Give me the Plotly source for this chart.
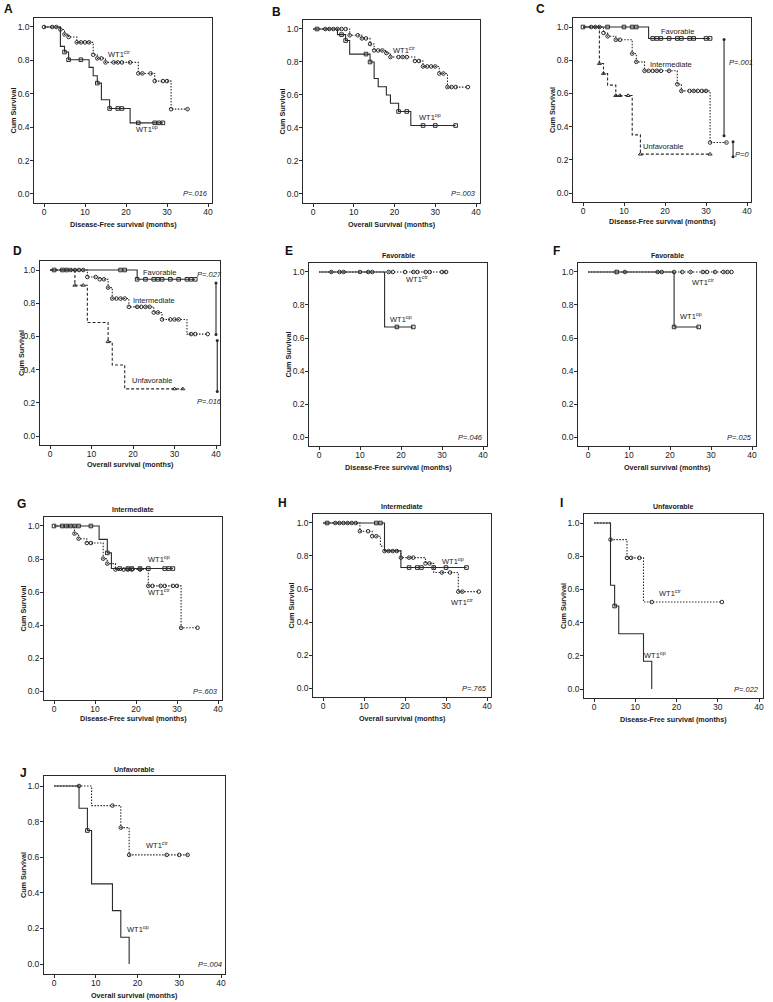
import plotly.graph_objects as go

W, H = 773, 1002
FONT = "Arial, Liberation Sans, sans-serif"
INK = "#2a2a2a"

# ---------------- data (Kaplan-Meier steps: start times, survival levels, end, censor times)
A_ctr_T = [0, 4, 5, 6, 8, 12, 13, 15, 23, 27, 31]
A_ctr_S = [1.0, 0.985, 0.956, 0.94, 0.908, 0.834, 0.812, 0.788, 0.722, 0.676, 0.508]
A_ctr_end = 35
A_ctr_cens = [0, 2, 3, 4, 5, 6, 8, 9, 10, 11, 12, 13, 14, 15, 17, 18, 19, 21, 23, 24, 26, 27, 29, 30, 31, 35]
A_op_T = [0, 4, 5, 6, 11, 12, 13, 14, 16, 21]
A_op_S = [1.0, 0.884, 0.85, 0.804, 0.758, 0.708, 0.664, 0.564, 0.512, 0.426]
A_op_end = 29
A_op_cens = [5, 6, 9, 13, 16, 18, 19, 23, 27, 28, 29]

B_ctr_T = [0, 9, 12, 14, 15, 18, 19, 25, 27, 31, 33]
B_ctr_S = [1.0, 0.962, 0.943, 0.909, 0.87, 0.854, 0.83, 0.806, 0.773, 0.73, 0.648]
B_ctr_end = 38
B_ctr_cens = [3, 4, 5, 6, 7, 8, 9, 11, 12, 13, 14, 15, 16, 17, 18, 19, 21, 22, 23, 25, 26,
              27, 28, 29, 30, 31, 32, 33, 34, 35, 38]
B_op_T = [0, 6, 8, 9, 14, 15, 16, 18, 19, 21, 24]
B_op_S = [1.0, 0.966, 0.93, 0.848, 0.80, 0.70, 0.65, 0.60, 0.55, 0.50, 0.415]
B_op_end = 35
B_op_cens = [1, 7, 8, 13, 14, 21, 23, 27, 30, 35]

C_fav_T = [0, 16]
C_fav_S = [1.0, 0.931]
C_fav_end = 31
C_fav_cens = [0, 6, 10, 12, 13, 17, 18, 19, 21, 23, 24, 26, 27, 30, 31]
C_int_T = [0, 5, 6, 8, 12, 13, 15, 23, 24, 31]
C_int_S = [1.0, 0.964, 0.944, 0.923, 0.84, 0.79, 0.736, 0.655, 0.615, 0.304]
C_int_end = 35
C_int_cens = [2, 3, 4, 5, 6, 8, 9, 12, 13, 15, 16, 17, 18, 19, 21, 23, 24, 26, 27, 28, 29, 30, 31, 35]
C_unf_T = [0, 4, 5, 6, 8, 12, 14]
C_unf_S = [1.0, 0.78, 0.72, 0.65, 0.587, 0.35, 0.234]
C_unf_end = 31
C_unf_cens = [4, 5, 8, 9, 11, 14, 31]

D_fav_T = [0, 21]
D_fav_S = [1.0, 0.944]
D_fav_end = 35
D_fav_cens = [1, 3, 4, 17, 18, 21, 23, 25, 26, 27, 29, 31, 33, 34, 35]
D_int_T = [0, 9, 12, 14, 15, 19, 25, 27, 33]
D_int_S = [1.0, 0.958, 0.944, 0.894, 0.828, 0.778, 0.744, 0.702, 0.614]
D_int_end = 38
D_int_cens = [5, 6, 7, 8, 9, 11, 12, 13, 14, 15, 16, 17, 18, 19, 21, 22, 23, 24, 25, 26, 27,
              29, 30, 31, 34, 35, 38]
D_unf_T = [0, 6, 9, 14, 15, 18]
D_unf_S = [1.0, 0.908, 0.684, 0.568, 0.428, 0.284]
D_unf_end = 32
D_unf_cens = [6, 8, 14, 30, 32]

E_ctr_T = [0]
E_ctr_S = [1.0]
E_ctr_end = 31
E_ctr_cens = [3, 5, 6, 10, 12, 13, 17, 18, 21, 23, 24, 26, 27, 30, 31]
E_op_T = [0, 16]
E_op_S = [1.0, 0.667]
E_op_end = 23
E_op_cens = [19, 23]

F_ctr_T = [0]
F_ctr_S = [1.0]
F_ctr_end = 35
F_ctr_cens = [9, 17, 18, 21, 23, 25, 28, 29, 31, 33, 34, 35]
F_op_T = [0, 21]
F_op_S = [1.0, 0.667]
F_op_end = 27
F_op_cens = [7, 21, 27]

G_ctr_T = [0, 5, 6, 8, 12, 13, 15, 23, 31]
G_ctr_S = [1.0, 0.954, 0.923, 0.897, 0.802, 0.772, 0.736, 0.637, 0.383]
G_ctr_end = 35
G_ctr_cens = [5, 6, 8, 9, 12, 13, 15, 17, 18, 19, 21, 23, 24, 26, 27, 29, 30, 31, 35]
G_op_T = [0, 11, 13, 14]
G_op_S = [1.0, 0.919, 0.837, 0.742]
G_op_end = 29
G_op_cens = [0, 2, 3, 4, 5, 6, 9, 13, 16, 18, 19, 21, 23, 27, 28, 29]

H_ctr_T = [0, 9, 12, 14, 15, 19, 25, 27, 33]
H_ctr_S = [1.0, 0.95, 0.92, 0.86, 0.83, 0.79, 0.755, 0.70, 0.584]
H_ctr_end = 38
H_ctr_cens = [3, 4, 5, 6, 7, 8, 9, 11, 12, 13, 15, 16, 17, 18, 19, 21, 22, 25, 26, 29, 31, 33, 34, 38]
H_op_T = [0, 15, 19]
H_op_S = [1.0, 0.831, 0.73]
H_op_end = 35
H_op_cens = [1, 13, 14, 21, 23, 24, 27, 30, 35]

I_ctr_T = [0, 4, 8, 12]
I_ctr_S = [1.0, 0.90, 0.79, 0.524]
I_ctr_end = 31
I_ctr_cens = [4, 8, 9, 11, 14, 31]
I_op_T = [0, 4, 5, 6, 12, 14]
I_op_S = [1.0, 0.625, 0.50, 0.333, 0.167, 0.0]
I_op_end = 14
I_op_cens = [5]

J_ctr_T = [0, 9, 16, 18]
J_ctr_S = [1.0, 0.89, 0.766, 0.613]
J_ctr_end = 32
J_ctr_cens = [6, 14, 16, 18, 27, 30, 32]
J_op_T = [0, 6, 8, 9, 14, 16, 18]
J_op_S = [1.0, 0.875, 0.75, 0.45, 0.30, 0.15, 0.0]
J_op_end = 18
J_op_cens = [8]

x_ticks = [0, 10, 20, 30, 40]
y_ticks = [0.0, 0.2, 0.4, 0.6, 0.8, 1.0]
y_ticklabels = ["0.0", "0.2", "0.4", "0.6", "0.8", "1.0"]

DFS = "Disease-Free survival (months)"
OS = "Overall survival (months)"
OS_B = "Overall Survival (months)"

# ---------------- styles
CTR = dict(dash="1.5px,1.5px", symbol="circle-open")
OP = dict(dash="solid", symbol="square-open")
FAV = dict(dash="solid", symbol="square-open")
INT = dict(dash="1.5px,1.5px", symbol="circle-open")
UNF = dict(dash="3px,2px", symbol="triangle-up-open")

XR = [-2.4, 41.0]
YR = [-0.055, 1.055]

ctr_lab = "WT1<sup>ctr</sup>"
op_lab = "WT1<sup>op</sup>"

panels = [
    dict(letter="A", geo=(44, 208, 27, 194), lpos=(8, 9), xtitle=DFS, xty=224, yt=13, title=None,
         curves=[(A_ctr_T, A_ctr_S, A_ctr_end, A_ctr_cens, CTR), (A_op_T, A_op_S, A_op_end, A_op_cens, OP)],
         labels=[(ctr_lab, 18.3, 0.84), (op_lab, 25.0, 0.39)], p="P=.016"),
    dict(letter="B", geo=(313, 476, 29, 194), lpos=(276, 12), xtitle=OS_B, xty=224, yt=282, title=None,
         curves=[(B_ctr_T, B_ctr_S, B_ctr_end, B_ctr_cens, CTR), (B_op_T, B_op_S, B_op_end, B_op_cens, OP)],
         labels=[(ctr_lab, 22.4, 0.87), (op_lab, 28.6, 0.466)], p="P=.003"),
    dict(letter="C", geo=(583, 747, 27, 193), lpos=(540, 9), xtitle=DFS, xty=222, yt=552, title=None,
         curves=[(C_unf_T, C_unf_S, C_unf_end, C_unf_cens, UNF), (C_int_T, C_int_S, C_int_end, C_int_cens, INT),
                 (C_fav_T, C_fav_S, C_fav_end, C_fav_cens, FAV)],
         labels=[("Favorable", 23.1, 0.97), ("Intermediate", 21.4, 0.772), ("Unfavorable", 19.4, 0.278)],
         p=None,
         brackets=[(34.4, 0.925, 0.345, "P=.001", 38.6, 0.786, "center"),
                   (36.6, 0.308, 0.218, "P=0", 38.9, 0.234, "center")]),
    dict(letter="D", geo=(50, 216, 270, 436), lpos=(17, 251), xtitle=OS, xty=465, yt=21, title=None,
         curves=[(D_unf_T, D_unf_S, D_unf_end, D_unf_cens, UNF), (D_int_T, D_int_S, D_int_end, D_int_cens, INT),
                 (D_fav_T, D_fav_S, D_fav_end, D_fav_cens, FAV)],
         labels=[("Favorable", 26.4, 0.982), ("Intermediate", 25.1, 0.816), ("Unfavorable", 24.5, 0.334)],
         p=None,
         brackets=[(40.0, 0.922, 0.612, "P=.027", 38.4, 0.972, "center"),
                   (40.3, 0.576, 0.268, "P=.016", 38.4, 0.208, "center")]),
    dict(letter="E", geo=(319, 483, 272, 437), lpos=(289, 251), xtitle=DFS, xty=467, yt=288, title="Favorable",
         curves=[(E_ctr_T, E_ctr_S, E_ctr_end, E_ctr_cens, CTR), (E_op_T, E_op_S, E_op_end, E_op_cens, OP)],
         labels=[(ctr_lab, 23.9, 0.96), (op_lab, 20.0, 0.715)], p="P=.046"),
    dict(letter="F", geo=(588, 752, 272, 437), lpos=(556, 251), xtitle=OS, xty=467, yt=None, title="Favorable",
         curves=[(F_ctr_T, F_ctr_S, F_ctr_end, F_ctr_cens, CTR), (F_op_T, F_op_S, F_op_end, F_op_cens, OP)],
         labels=[(ctr_lab, 28.0, 0.94), (op_lab, 25.2, 0.735)], p="P=.025"),
    dict(letter="G", geo=(54, 218, 526, 691), lpos=(21, 504), xtitle=DFS, xty=718, yt=23, title="Intermediate",
         curves=[(G_ctr_T, G_ctr_S, G_ctr_end, G_ctr_cens, CTR), (G_op_T, G_op_S, G_op_end, G_op_cens, OP)],
         labels=[(op_lab, 25.7, 0.80), (ctr_lab, 25.7, 0.60)], p="P=.603"),
    dict(letter="H", geo=(323, 487, 523, 688), lpos=(282, 503), xtitle=OS, xty=718, yt=291, title="Intermediate",
         curves=[(H_ctr_T, H_ctr_S, H_ctr_end, H_ctr_cens, CTR), (H_op_T, H_op_S, H_op_end, H_op_cens, OP)],
         labels=[(op_lab, 31.8, 0.77), (ctr_lab, 33.8, 0.523)], p="P=.765"),
    dict(letter="I", geo=(594, 759, 523, 689), lpos=(561, 503), xtitle=DFS, xty=719, yt=563, title="Unfavorable",
         curves=[(I_ctr_T, I_ctr_S, I_ctr_end, I_ctr_cens, CTR), (I_op_T, I_op_S, I_op_end, I_op_cens, OP)],
         labels=[(ctr_lab, 18.4, 0.58), (op_lab, 14.9, 0.207)], p="P=.022"),
    dict(letter="J", geo=(54, 221, 786, 964), lpos=(23, 773), xtitle=OS, xty=995, yt=23, title="Unfavorable",
         curves=[(J_ctr_T, J_ctr_S, J_ctr_end, J_ctr_cens, CTR), (J_op_T, J_op_S, J_op_end, J_op_cens, OP)],
         labels=[(ctr_lab, 24.6, 0.669), (op_lab, 20.2, 0.196)], p="P=.004"),
]


def px(x):
    return x / W


def py(y):
    return 1 - y / H


def level(T, S, t):
    v = S[0]
    for ti, si in zip(T, S):
        if ti <= t:
            v = si
    return v


fig = go.Figure()
layout = {}
annotations = []

for i, p in enumerate(panels, start=1):
    sfx = "" if i == 1 else str(i)
    xa, ya = "x" + sfx, "y" + sfx
    x0, x40, y1, y0 = p["geo"]
    sx = (x40 - x0) / 40.0
    sy = (y0 - y1) / 1.0
    left = x0 + (XR[0]) * sx
    right = x0 + XR[1] * sx
    top = y1 - (YR[1] - 1) * sy
    bottom = y0 - YR[0] * sy
    axis_common = dict(ticks="outside", ticklen=3, tickwidth=1, tickcolor=INK, showline=True,
                       linecolor=INK, linewidth=1, mirror=True, showgrid=False, zeroline=False,
                       tickfont=dict(family=FONT, size=8.5, color="#1a1a1a"))
    layout["xaxis" + sfx] = dict(domain=[px(left), px(right)], range=XR, anchor=ya, tickvals=x_ticks,
                                 ticklabelstandoff=-2, **axis_common)
    layout["yaxis" + sfx] = dict(domain=[py(bottom), py(top)], range=YR, anchor=xa, tickvals=y_ticks,
                                 ticktext=y_ticklabels, ticklabelstandoff=-1, **axis_common)

    for (T, S, end, cens, st) in p["curves"]:
        fig.add_trace(go.Scatter(
            x=list(T) + [end], y=list(S) + [S[-1]], mode="lines", line_shape="hv",
            line=dict(color=INK, width=1.1, dash=st["dash"]), xaxis=xa, yaxis=ya,
            hoverinfo="skip", showlegend=False))
        fig.add_trace(go.Scatter(
            x=cens, y=[level(T, S, t) for t in cens], mode="markers",
            marker=dict(symbol=st["symbol"], size=3.6, color=INK, line=dict(width=1, color=INK)),
            xaxis=xa, yaxis=ya, hoverinfo="skip", showlegend=False))

    for (txt, lx, ly) in p["labels"]:
        annotations.append(dict(text=txt, x=lx, y=ly, xref=xa, yref=ya, showarrow=False,
                                xanchor="center", yanchor="middle",
                                font=dict(family=FONT, size=7.5, color="#1a1a1a")))

    if p.get("p"):
        annotations.append(dict(text="<i>" + p["p"] + "</i>", x=40.6, y=0.0, xref=xa, yref=ya,
                                xanchor="right", yanchor="middle", showarrow=False,
                                font=dict(family=FONT, size=7.5, color="#1a1a1a")))
    for (bx, ya_, yb_, txt, tx, ty, anc) in p.get("brackets", []):
        fig.add_trace(go.Scatter(
            x=[bx, bx], y=[ya_, yb_], mode="lines+markers",
            line=dict(color=INK, width=1.1), marker=dict(symbol="circle", size=3, color=INK),
            xaxis=xa, yaxis=ya, hoverinfo="skip", showlegend=False))
        annotations.append(dict(text="<i>" + txt + "</i>", x=tx, y=ty, xref=xa, yref=ya,
                                showarrow=False, xanchor=anc, yanchor="middle",
                                font=dict(family=FONT, size=7.5, color="#1a1a1a")))

    lx, ly = p["lpos"]
    annotations.append(dict(text="<b>" + p["letter"] + "</b>", x=px(lx), y=py(ly), xref="paper",
                            yref="paper", showarrow=False, xanchor="center", yanchor="middle",
                            font=dict(family=FONT, size=12, color="#111")))
    if p["title"]:
        annotations.append(dict(text="<b>" + p["title"] + "</b>", x=px((left + right) / 2),
                                y=py(top - 7), xref="paper", yref="paper", showarrow=False,
                                xanchor="center", yanchor="middle",
                                font=dict(family=FONT, size=7, color="#1a1a1a")))
    annotations.append(dict(text="<b>" + p["xtitle"] + "</b>", x=px((left + right) / 2), y=py(p["xty"]),
                            xref="paper", yref="paper", showarrow=False, xanchor="center",
                            yanchor="middle", font=dict(family=FONT, size=7.2, color="#1a1a1a")))
    if p["yt"] is not None:
        annotations.append(dict(text="<b>Cum Survival</b>", x=px(p["yt"]), y=py((top + bottom) / 2),
                                xref="paper", yref="paper", showarrow=False, textangle=-90,
                                xanchor="center", yanchor="middle",
                                font=dict(family=FONT, size=7.2, color="#1a1a1a")))

fig.update_layout(**layout)
fig.update_layout(
    width=W, height=H, margin=dict(l=0, r=0, t=0, b=0),
    paper_bgcolor="white", plot_bgcolor="white", annotations=annotations,
    font=dict(family=FONT, color="#222"), showlegend=False)

fig.write_html("out.html", config={"displayModeBar": False},
               post_script="document.body.style.margin='0px';")
